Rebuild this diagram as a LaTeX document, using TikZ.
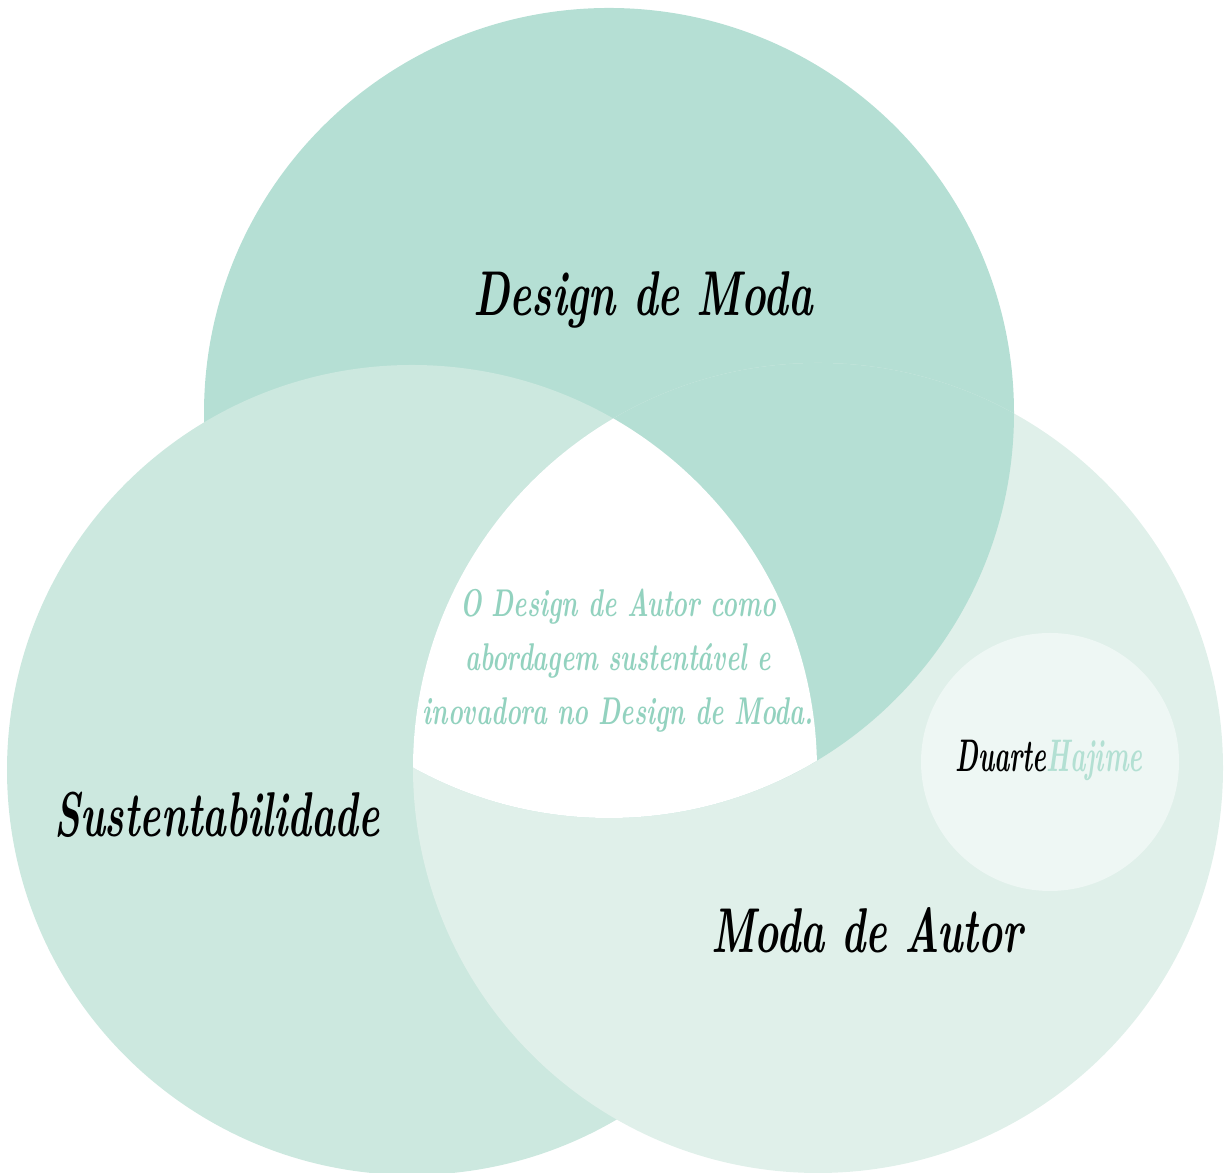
\documentclass[tikz,border=0pt]{standalone}
\usepackage{tikz}
\usepackage{graphicx}

\definecolor{moda}{HTML}{B5DFD4}
\definecolor{sust}{HTML}{CCE8DF}
\definecolor{autor}{HTML}{E0F0EA}
\definecolor{marca}{HTML}{EEF7F4}
\definecolor{verde}{HTML}{93D2BF}
\definecolor{hajime}{HTML}{B3E0D3}

% narrow, tall lettering
\newcommand{\brush}[2]{\scalebox{#1}[1]{#2}}

\begin{document}
\begin{tikzpicture}[every node/.style={font=\bfseries\itshape},
  titulo/.style={font=\fontsize{18}{22}\selectfont\bfseries\itshape}]
\useasboundingbox (0,0) rectangle (12.24,11.73);
\def\R{4.05}
\coordinate (t) at (6.09,7.60);
\coordinate (l) at (4.12,4.03);
\coordinate (r) at (8.18,4.05);
\coordinate (s) at (10.50,4.11);
\fill[moda] (t) circle (\R);
\fill[sust] (l) circle (\R);
\fill[autor] (r) circle (\R);
\begin{scope}
  \clip (r) circle (\R);
  \fill[moda] (t) circle (\R);
\end{scope}
\begin{scope}
  \clip (l) circle (\R);
  \clip (r) circle (\R);
  \clip (t) circle (\R);
  \fill[white] (t) circle (\R);
  \node[verde, font=\fontsize{11}{15.3}\selectfont\bfseries\itshape] (core) at (6.18,5.13)
    {\brush{0.65}{\begin{tabular}{@{}c@{}}O Design de Autor como\\ abordagem sustentável e\\ inovadora no Design de Moda.\end{tabular}}};
\end{scope}
\fill[marca] (s) circle (1.29);
\node[titulo] (dm) at (6.43,8.73) {\brush{0.656}{Design de Moda}};
\node[titulo] (sus) at (2.17,3.58) {\brush{0.632}{Sustentabilidade}};
\node[titulo] (ma) at (8.67,2.43) {\brush{0.645}{Moda de Autor}};
\node[font=\fontsize{13}{16}\selectfont\bfseries\itshape] (brand) at (10.49,4.13)
  {\brush{0.57}{Duarte\textcolor{hajime}{Hajime}}};
\end{tikzpicture}
\end{document}
